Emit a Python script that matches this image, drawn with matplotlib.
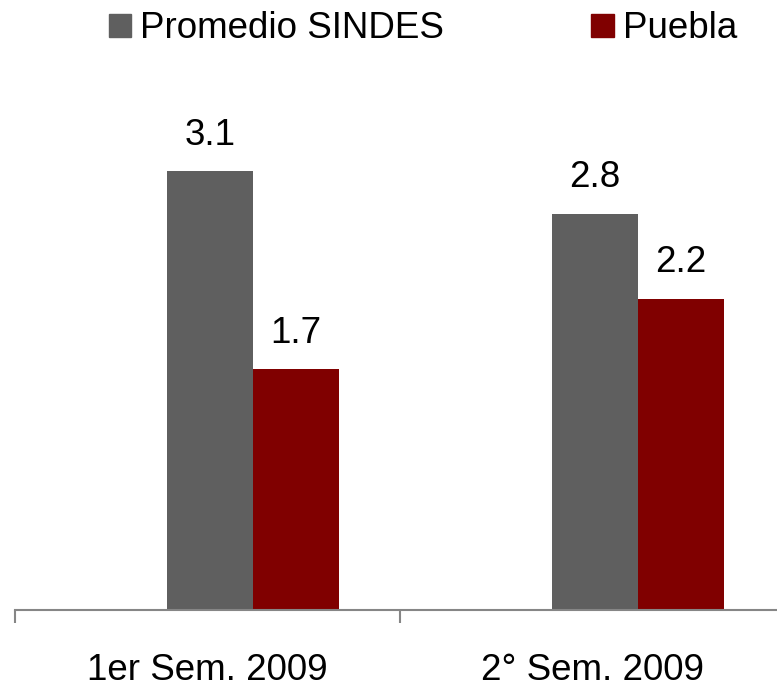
import matplotlib
matplotlib.use("Agg")
import matplotlib.pyplot as plt
import numpy as np
from matplotlib.patches import Patch

categories = ["1er Sem. 2009", "2° Sem. 2009"]
series_names = ["Promedio SINDES", "Puebla"]
promedio = [3.1, 2.8]
puebla = [1.7, 2.2]
colors = ["#5f5f5f", "#800000"]

plt.rcParams['font.family'] = ['Liberation Sans', 'DejaVu Sans']

W, H = 777, 691
fig = plt.figure(figsize=(W/100, H/100), dpi=100)
ppu = 141.5
ymax = 3.6
ax_bottom_px = 610
ax = fig.add_axes([15/W, (H-ax_bottom_px)/H, 770/W, ymax*ppu/H])

fs = 26.5
x = np.arange(len(categories))
bw = 0.224
b1 = ax.bar(x + 0.006, promedio, width=bw, color=colors[0], align='center')
b2 = ax.bar(x + 0.006 + bw, puebla, width=bw, color=colors[1], align='center')
for bars, vals in ((b1, promedio), (b2, puebla)):
    for r, v in zip(bars, vals):
        ax.text(r.get_x() + r.get_width()/2, v + 0.13, f"{v:.1f}", ha='center', va='bottom', fontsize=fs)

ax.set_xlim(-0.5, 1.5)
ax.set_ylim(0, ymax)
ax.set_xticks([-0.5, 0.5, 1.5])
ax.set_xticklabels([])
ax.set_xticks(x, minor=True)
ax.set_xticklabels(categories, minor=True, fontsize=fs)
ax.tick_params(axis='x', which='major', length=9, width=1.5, color='#868686', direction='out')
ax.tick_params(axis='x', which='minor', length=0, pad=31)
ax.set_yticks([])
for s in ['top', 'right', 'left']:
    ax.spines[s].set_visible(False)
ax.spines['bottom'].set_color('#868686')
ax.spines['bottom'].set_linewidth(1.5)
ax.patch.set_alpha(0)

handles = [Patch(color=c) for c in colors]
fig.legend(handles, series_names, loc='center', bbox_to_anchor=(423/W, 1-29/H), ncol=2,
           frameon=False, fontsize=fs, handlelength=0.6, handleheight=0.6,
           handletextpad=0.25, columnspacing=4.0, borderaxespad=0)

fig.savefig("out.png", dpi=100)
